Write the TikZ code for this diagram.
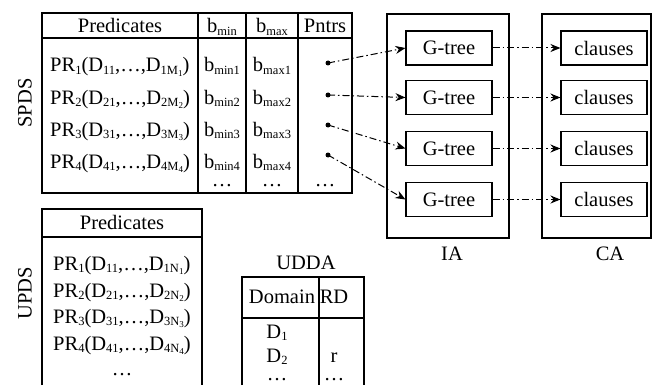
\documentclass[tikz,border=0pt]{standalone}
\usepackage{fontspec}
\setmainfont{Liberation Serif}
\usetikzlibrary{arrows.meta, positioning}
\newcommand{\fsz}{\rmfamily\fontsize{20.5}{25}\selectfont}
\newcommand{\sub}[1]{\raisebox{-0.25ex}{\fontsize{12.5}{13}\selectfont #1}}
\newcommand{\subb}[1]{\raisebox{-0.3ex}{\fontsize{9}{9}\selectfont #1}}

\begin{document}
\begin{tikzpicture}[x=1pt, y=-1pt,
    frame/.style={draw=black, line width=1.1pt},
    box/.style={rectangle, draw=black, line width=1.1pt, minimum width=86pt, minimum height=34pt, font=\fsz, inner sep=0pt},
    txt/.style={font=\fsz, inner sep=0pt},
    ptr/.style={circle, fill=black, inner sep=0pt, minimum size=5pt},
    arrow/.style={-{Stealth[length=10pt, width=8pt]}, line width=1pt, dash pattern=on 7pt off 3pt on 1.5pt off 3pt}
]
    \useasboundingbox (0,0) rectangle (652,385);

    % SPDS table
    \draw[frame] (42,13) rectangle (352,193);
    \draw[frame] (42,38) -- (352,38);
    \foreach \x in {198,246,298}
        \draw[frame] (\x,13) -- (\x,193);

    \node[txt, rotate=90] (spds) at (25,103) {SPDS};
    \node[txt, anchor=base] (spdsPred) at (120,33) {Predicates};
    \node[txt, anchor=base] (spdsMin) at (222,33) {b\sub{min}};
    \node[txt, anchor=base] (spdsMax) at (272,33) {b\sub{max}};
    \node[txt, anchor=base] (spdsPtr) at (325,33) {Pntrs};

    \foreach \i/\y/\py in {1/72/63, 2/104/95, 3/136/125, 4/168/155} {
        \node[txt, anchor=base west] (pr\i) at (50,\y) {PR\sub{\i}(D\sub{\i1},\ldots,D\sub{\i M\subb{\i}})};
        \node[txt, anchor=base] (bmin\i) at (222,\y) {b\sub{min\i}};
        \node[txt, anchor=base] (bmax\i) at (272,\y) {b\sub{max\i}};
        \node[ptr] (p\i) at (328,\py) {};
    }
    \node[txt, anchor=base] (dotsMin) at (222,186) {\ldots};
    \node[txt, anchor=base] (dotsMax) at (272,186) {\ldots};
    \node[txt, anchor=base] (dotsPtr) at (325,186) {\ldots};

    % IA and CA
    \draw[frame] (387,14) rectangle (509,238);
    \draw[frame] (542,14) rectangle (651,238);
    \node[txt] (ia) at (452,254) {IA};
    \node[txt] (ca) at (610,254) {CA};

    \foreach \i/\gy in {1/48, 2/97.5, 3/148.5, 4/199.5} {
        \node[box] (gt\i) at (449,\gy) {G-tree};
        \node[box] (cl\i) at (604,\gy) {clauses};
        \draw[arrow] (p\i.center) -- (gt\i.west);
        \draw[arrow] (gt\i) -- (cl\i);
    }

    % UPDS table
    \draw[frame] (42,385) -- (42,209) -- (202,209) -- (202,385);
    \draw[frame] (42,237) -- (202,237);
    \node[txt, rotate=90] (upds) at (25,293) {UPDS};
    \node[txt, anchor=base] (updsPred) at (122,229) {Predicates};
    \foreach \i/\y in {1/270, 2/297, 3/323, 4/350}
        \node[txt, anchor=base west] (qr\i) at (53,\y) {PR\sub{\i}(D\sub{\i1},\ldots,D\sub{\i N\subb{\i}})};
    \node[txt, anchor=base] (dotsUpds) at (122,375) {\ldots};

    % UDDA table
    \node[txt, anchor=base] (udda) at (306,269) {UDDA};
    \draw[frame] (242,385) -- (242,277) -- (364,277) -- (364,385);
    \draw[frame] (319,277) -- (319,385);
    \draw[frame] (242,318) -- (364,318);
    \node[txt, anchor=base] (dom) at (282,303) {Domain};
    \node[txt, anchor=base] (rd) at (334,303) {RD};
    \node[txt, anchor=base] (d1) at (277,338) {D\sub{1}};
    \node[txt, anchor=base] (d2) at (277,362) {D\sub{2}};
    \node[txt, anchor=base] (dotsDom) at (277,380) {\ldots};
    \node[txt, anchor=base] (rr) at (334,362) {r};
    \node[txt, anchor=base] (dotsRd) at (334,380) {\ldots};
\end{tikzpicture}
\end{document}
